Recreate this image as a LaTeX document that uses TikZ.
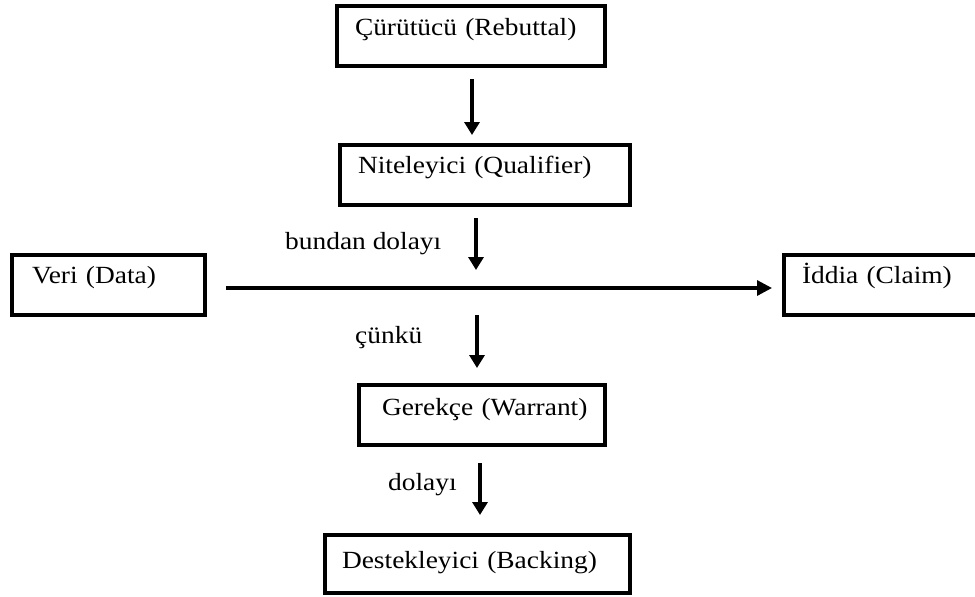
\documentclass[tikz,border=0pt]{standalone}
\usepackage{fontspec}
\setmainfont{Liberation Serif}[FakeStretch=1.11]
\usetikzlibrary{arrows.meta,calc}
\begin{document}
\begin{tikzpicture}[x=1pt,y=-1pt,
  box/.style={draw, line width=4.5pt, anchor=north west, inner ysep=0pt, outer sep=0pt, align=left,
    font=\fontsize{24.7}{28}\selectfont},
  lbl/.style={anchor=base west, inner sep=0pt, font=\fontsize{24.7}{28}\selectfont},
  arr/.style={line width=3.5pt, -{Triangle[length=13pt,width=15pt]}},
  harr/.style={line width=3.2pt, -{Triangle[length=15pt,width=15pt]}}]
\useasboundingbox (0,0) rectangle (975,597);
\clip (0,0) rectangle (975,597);
\fill[white] (0,0) rectangle (975,597);

\node[box, text width=232pt, inner xsep=18pt, text height=29pt, text depth=31pt] (reb) at (337,6) {\mbox{Çürütücü (Rebuttal)}};
\node[box, text width=254pt, inner xsep=18pt, text height=28pt, text depth=32pt] (qual) at (340,145) {\mbox{Niteleyici (Qualifier)}};
\node[box, text width=153pt, inner xsep=20pt, text height=28pt, text depth=32pt] (data) at (12,255) {\mbox{Veri (Data)}};
\node[box, text width=180pt, inner xsep=18pt, text height=28pt, text depth=32pt] (claim) at (784,255) {\mbox{İddia (Claim)}};
\node[box, text width=200pt, inner xsep=23pt, text height=30pt, text depth=30pt] (war) at (359,385) {\mbox{Gerekçe (Warrant)}};
\node[box, text width=271pt, inner xsep=17pt, text height=33pt, text depth=25pt] (back) at (325,535) {\mbox{Destekleyici (Backing)}};

\coordinate (mid) at (476,288);

\node[lbl] (l1) at (285,249) {bundan dolayı};
\node[lbl] (l2) at (355,343) {çünkü};
\node[lbl] (l3) at (388,490) {dolayı};

\draw[arr] ($(reb.south)+(1pt,-13pt)$) -- ($(reb.south |- qual.north)+(1pt,10pt)$);
\draw[arr] ($(qual.south -| mid)+(0,-13pt)$) -- ($(mid)+(0,18pt)$);
\draw[harr] ($(data.east |- mid)+(21pt,0)$) -- ($(claim.west |- mid)+(-12pt,0)$);
\draw[arr] ($(mid)+(1pt,-27pt)$) -- ($(war.north -| mid)+(1pt,17pt)$);
\draw[arr] ($(war.south -| mid)+(4pt,-18pt)$) -- ($(back.north -| mid)+(4pt,20pt)$);
\end{tikzpicture}
\end{document}
